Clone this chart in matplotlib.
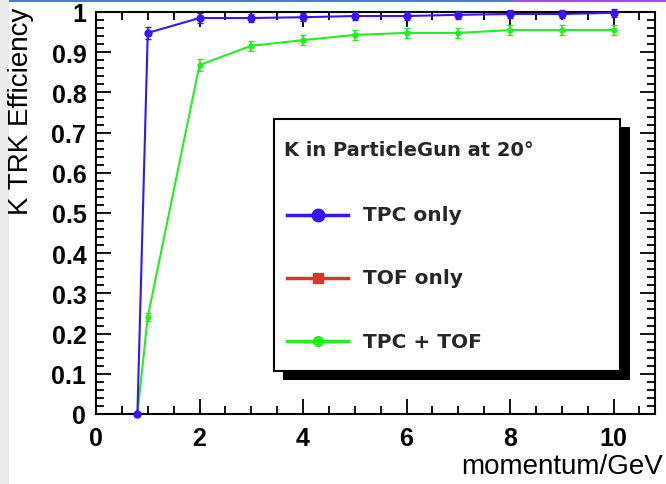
import numpy as np
import matplotlib
matplotlib.use('Agg')
import matplotlib.pyplot as plt
from matplotlib.patches import Rectangle
from matplotlib.lines import Line2D
from matplotlib.ticker import MultipleLocator

# kaon tracking efficiency vs momentum
p_tpc = [0.8, 1, 2, 3, 4, 5, 6, 7, 8, 9, 10]
eff_tpc = [0.0, 0.948, 0.985, 0.985, 0.987, 0.990, 0.990, 0.993, 0.995, 0.995, 0.998]
err_tpc = [0.0, 0.015, 0.012, 0.010, 0.010, 0.010, 0.010, 0.010, 0.010, 0.010, 0.010]

p_tof = []
eff_tof = []
err_tof = []

p_both = [0.8, 1, 2, 3, 4, 5, 6, 7, 8, 9, 10]
eff_both = [0.0, 0.241, 0.868, 0.916, 0.930, 0.943, 0.948, 0.948, 0.955, 0.955, 0.955]
err_both = [0.0, 0.010, 0.015, 0.013, 0.013, 0.013, 0.013, 0.013, 0.013, 0.013, 0.013]

legend_title = 'K in ParticleGun at 20°'
labels = ['TPC only', 'TOF only', 'TPC + TOF']
colors = ['#3a14f5', '#d23a2c', '#22ee22']

W, H = 666, 485
fig = plt.figure(figsize=(W / 100, H / 100), dpi=100)
plt.rcParams['font.family'] = ['Liberation Sans', 'DejaVu Sans']


def fx(x):
    return x / W


def fy(y):
    return 1 - y / H


# slide decorations
fig.patches.append(Rectangle((0, 0), fx(9), 1, transform=fig.transFigure,
                             facecolor='#ebebeb', edgecolor='none', zorder=0))
fig.patches.append(Rectangle((fx(9), fy(3)), fx(513 - 9), 3 / H, transform=fig.transFigure,
                             facecolor='#4a7bd8', edgecolor='none', zorder=0))
fig.patches.append(Rectangle((fx(513), fy(3)), fx(W - 513), 3 / H, transform=fig.transFigure,
                             facecolor='#a54af0', edgecolor='none', zorder=0))

ax = fig.add_axes([fx(96), fy(415), fx(655 - 96), (415 - 13) / H])
ax.set_xlim(0, 10.8)
ax.set_ylim(0, 1)

ax.errorbar(p_tpc, eff_tpc, yerr=err_tpc, color=colors[0], lw=1.5, marker='o', ms=5,
            capsize=2, elinewidth=1.2, clip_on=False, zorder=4)
ax.errorbar(p_tof, eff_tof, yerr=err_tof, color=colors[1], lw=1.5, marker='s', ms=4,
            capsize=2, clip_on=False)
ax.errorbar(p_both, eff_both, yerr=err_both, color=colors[2], lw=1.5, marker='o', ms=3.5,
            capsize=2, elinewidth=1.2, clip_on=False, zorder=3)

ax.xaxis.set_major_locator(MultipleLocator(2))
ax.xaxis.set_minor_locator(MultipleLocator(0.5))
ax.yaxis.set_major_locator(MultipleLocator(0.1))
ax.yaxis.set_minor_locator(MultipleLocator(0.02))
ax.tick_params(which='both', direction='in', top=True, right=True, width=1.3)
ax.tick_params(which='major', length=11, labelsize=18)
ax.tick_params(axis='x', which='major', pad=9)
ax.tick_params(axis='y', which='major', pad=7)
ax.tick_params(which='minor', length=5.5)
fmt = plt.FuncFormatter(lambda v, _: '%g' % round(v, 1))
ax.xaxis.set_major_formatter(fmt)
ax.yaxis.set_major_formatter(fmt)
for lab in ax.get_xticklabels() + ax.get_yticklabels():
    lab.set_fontweight('bold')
for s in ax.spines.values():
    s.set_linewidth(1.5)

fig.text(fx(21), fy(8), 'K TRK Efficiency', rotation=90, ha='center', va='top', fontsize=20)
fig.text(fx(663), fy(467), 'momentum/GeV', ha='right', va='center', fontsize=20)

# legend box with ROOT-style shadow
fig.patches.append(Rectangle((fx(283), fy(381)), fx(630 - 283), (381 - 128) / H,
                             transform=fig.transFigure, facecolor='black', edgecolor='none', zorder=5))
fig.patches.append(Rectangle((fx(274), fy(372)), fx(620 - 274), (372 - 120) / H,
                             transform=fig.transFigure, facecolor='white', edgecolor='black',
                             lw=1.5, zorder=6))
fig.text(fx(284), fy(150), legend_title, ha='left', va='center', fontsize=14,
         fontweight='bold', color='#262626', family='DejaVu Sans', zorder=7)
markers = ['o', 's', 'o']
msizes = [9, 7, 7]
for i, (lab, c) in enumerate(zip(labels, colors)):
    yy = fy(216 + i * 63)
    fig.lines.append(Line2D([fx(287), fx(348)], [yy, yy], transform=fig.transFigure,
                            color=c, lw=2.5, zorder=7))
    fig.lines.append(Line2D([fx(318)], [yy], transform=fig.transFigure, color=c,
                            marker=markers[i], ms=msizes[i], zorder=7))
    fig.text(fx(363), yy, lab, ha='left', va='center', fontsize=14.5,
             fontweight='bold', color='#262626', family='DejaVu Sans', zorder=7)

fig.savefig('out.png', dpi=100)
